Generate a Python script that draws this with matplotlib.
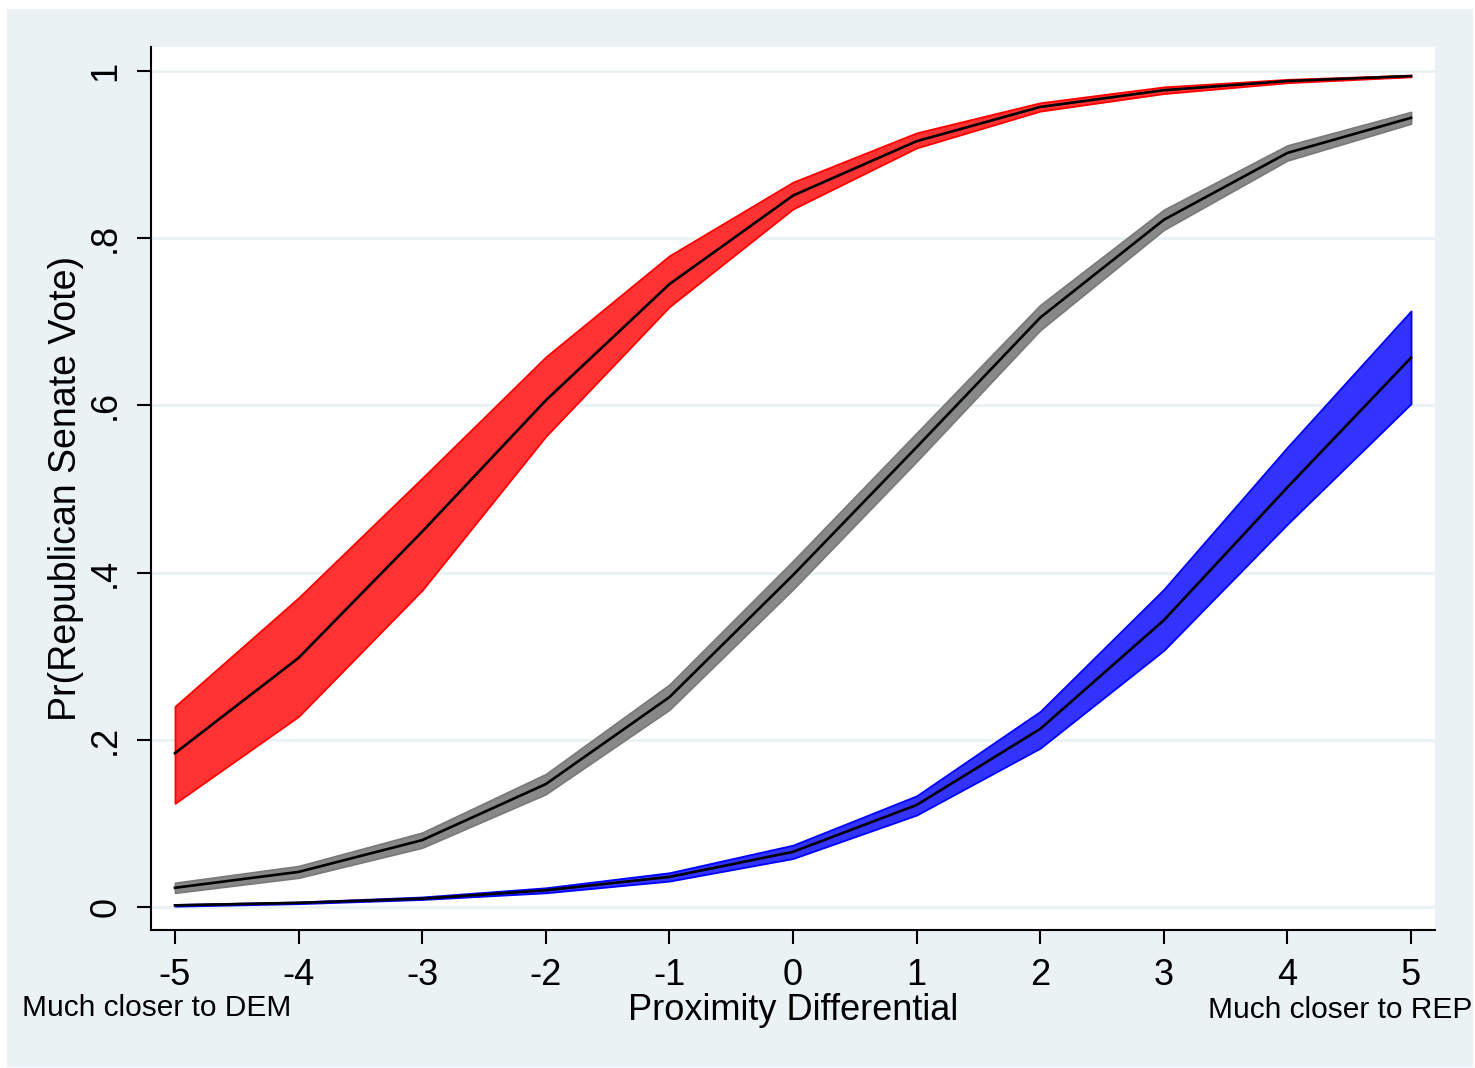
import numpy as np
import matplotlib
matplotlib.use("Agg")
import matplotlib.pyplot as plt
from matplotlib.patches import Rectangle

plt.rcParams['font.family'] = ['Liberation Sans', 'DejaVu Sans']

# data
prox = [-5, -4, -3, -2, -1, 0, 1, 2, 3, 4, 5]

rep_mid = [0.184, 0.298, 0.449, 0.606, 0.745, 0.851, 0.916, 0.957, 0.977, 0.988, 0.994]
rep_hi = [0.240, 0.370, 0.513, 0.658, 0.779, 0.867, 0.926, 0.962, 0.981, 0.990, 0.995]
rep_lo = [0.124, 0.228, 0.379, 0.563, 0.718, 0.835, 0.908, 0.952, 0.973, 0.986, 0.993]

ind_mid = [0.023, 0.042, 0.080, 0.147, 0.251, 0.397, 0.550, 0.705, 0.822, 0.902, 0.944]
ind_hi = [0.029, 0.049, 0.089, 0.159, 0.266, 0.414, 0.567, 0.720, 0.834, 0.911, 0.951]
ind_lo = [0.017, 0.035, 0.071, 0.135, 0.236, 0.380, 0.533, 0.690, 0.810, 0.893, 0.937]

dem_mid = [0.002, 0.005, 0.010, 0.020, 0.036, 0.066, 0.122, 0.213, 0.343, 0.502, 0.657]
dem_hi = [0.003, 0.006, 0.012, 0.023, 0.041, 0.074, 0.133, 0.234, 0.380, 0.550, 0.713]
dem_lo = [0.001, 0.004, 0.009, 0.017, 0.031, 0.058, 0.110, 0.190, 0.307, 0.458, 0.602]

yticks = [0, 0.2, 0.4, 0.6, 0.8, 1]
ytick_labels = ["0", ".2", ".4", ".6", ".8", "1"]

bg = "#EAF2F3"

fig = plt.figure(figsize=(14.75, 10.68), dpi=100)
fig.patch.set_facecolor("white")
fig.add_artist(Rectangle((7 / 1475, 1 / 1068), 1466 / 1475, 1058 / 1068,
                         transform=fig.transFigure, facecolor=bg,
                         edgecolor="none", zorder=-10))

ax = fig.add_axes([151 / 1475, 138 / 1068, 1284 / 1475, 883 / 1068])
ax.set_facecolor("white")

bands = [
    (rep_lo, rep_hi, rep_mid, "#FF3333", "#FF0000"),
    (ind_lo, ind_hi, ind_mid, "#888888", "#7A7A7A"),
    (dem_lo, dem_hi, dem_mid, "#3333FF", "#0000FF"),
]
for lo, hi, mid, fc, ec in bands:
    ax.fill_between(prox, lo, hi, facecolor=fc, edgecolor=ec, linewidth=1.3, zorder=2)
for lo, hi, mid, fc, ec in bands:
    ax.plot(prox, mid, color="black", linewidth=1.9, zorder=3)

ax.set_xlim(-5.194, 5.194)
ax.set_ylim(-0.0275, 1.0287)
ax.set_xticks(prox)
ax.set_xticklabels([str(v) for v in prox])
ax.set_yticks(yticks)
ax.set_yticklabels(ytick_labels, rotation=90, va="center")
ax.yaxis.grid(True, color=bg, linewidth=2)
ax.set_axisbelow(True)

for s in ["top", "right"]:
    ax.spines[s].set_visible(False)
for s in ["left", "bottom"]:
    ax.spines[s].set_linewidth(1.5)
ax.tick_params(axis="both", length=10, width=1.5, labelsize=26, pad=10)

ax.set_ylabel("Pr(Republican Senate Vote)", fontsize=27, labelpad=3)
fig.text(793 / 1475, 1 - 1010 / 1068, "Proximity Differential", fontsize=26,
         ha="center", va="center")
fig.text(22 / 1475, 1 - 1008 / 1068, "Much closer to DEM", fontsize=21.5,
         ha="left", va="center")
fig.text(1472 / 1475, 1 - 1010 / 1068, "Much closer to REP", fontsize=21.5,
         ha="right", va="center")

fig.savefig("out.png", dpi=100)
